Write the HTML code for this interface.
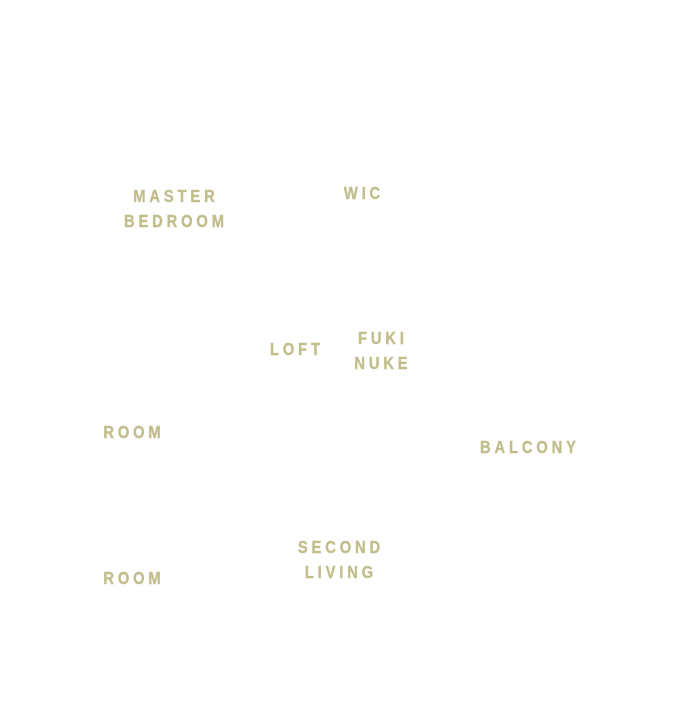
<!DOCTYPE html>
<html><head><style>
body{margin:0;width:677px;height:713px;background:#fff;position:relative;overflow:hidden}
.t{position:absolute;width:200px;text-align:center;font-family:"Liberation Sans",sans-serif;font-weight:bold;font-size:17.5px;letter-spacing:4.6px;padding-left:4.6px;line-height:25px;color:#c2be8c;box-sizing:border-box;transform:scaleX(0.84);transform-origin:50% 50%;-webkit-text-stroke:0.4px #c2be8c}
</style></head><body>
<div class="t" style="left:74px;top:184px">MASTER<br>BEDROOM</div>
<div class="t" style="left:262px;top:181px">WIC</div>
<div class="t" style="left:195px;top:337px">LOFT</div>
<div class="t" style="left:281px;top:326px">FUKI<br>NUKE</div>
<div class="t" style="left:32px;top:420px">ROOM</div>
<div class="t" style="left:428px;top:435px">BALCONY</div>
<div class="t" style="left:239px;top:535px">SECOND<br>LIVING</div>
<div class="t" style="left:32px;top:566px">ROOM</div>
</body></html>
